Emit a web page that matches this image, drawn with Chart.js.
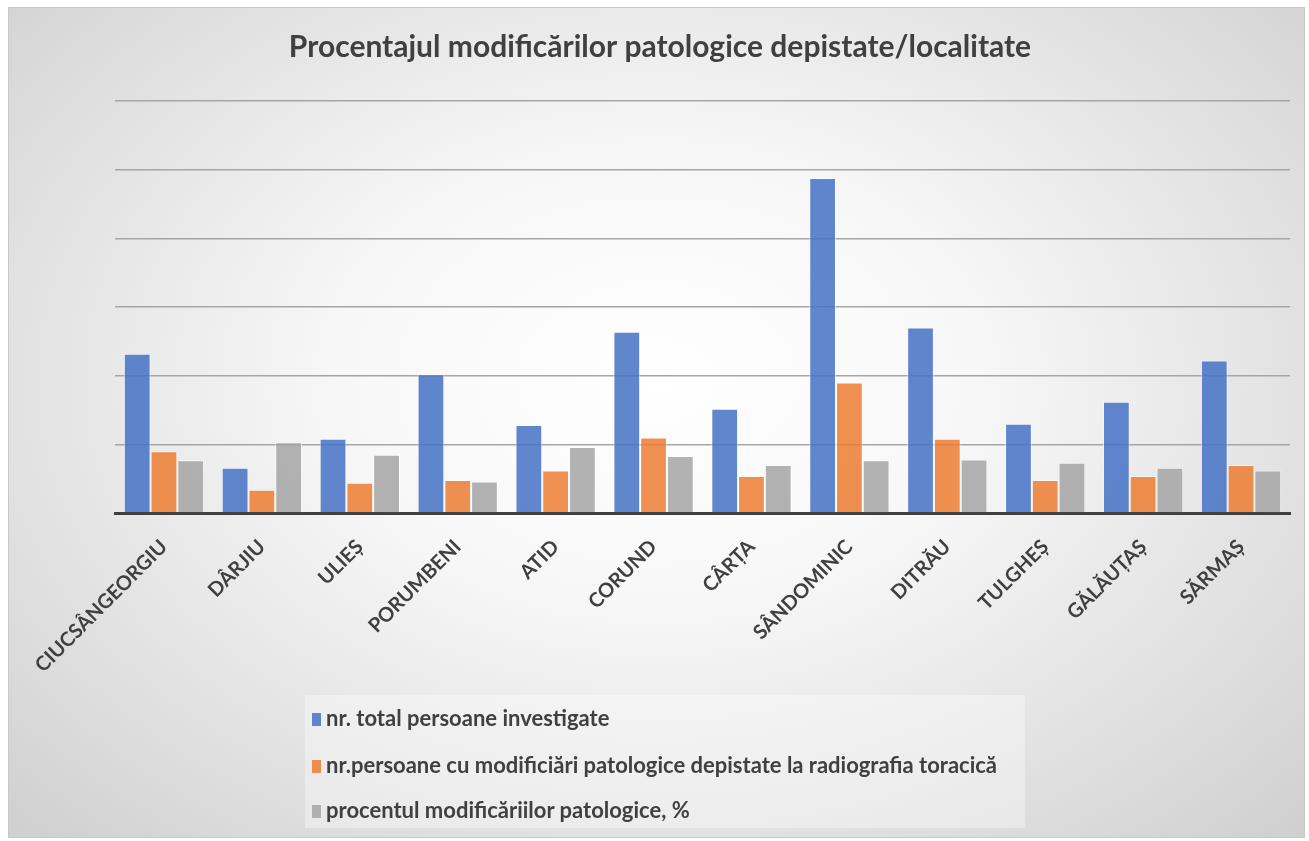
<!DOCTYPE html>
<html>
<head>
<meta charset="utf-8">
<script src="https://cdn.jsdelivr.net/npm/chart.js@4"></script>
<style>
  html, body { margin: 0; padding: 0; background: #fff; }
  #frame {
    position: absolute; left: 8px; top: 7px; width: 1295px; height: 829px;
    border: 1px solid #c8c8c8;
    background: radial-gradient(ellipse at 50% 45%, #ffffff 0%, #f7f7f7 35%, #dcdcdc 80%, #cfcfcf 100%);
  }
  #wrap { position: absolute; left: 0; top: 0; width: 1309px; height: 841px; }
  #legend {
    position: absolute; left: 305px; top: 695px; width: 720px; height: 133px;
    background: rgba(255,255,255,0.35);
    font-family: Lato, "Open Sans", sans-serif; font-weight: bold; font-size: 22px; color: #404040;
  }
  .item { position: absolute; left: 7px; height: 24px; line-height: 24px; white-space: nowrap; }
  .sw { display: inline-block; width: 9px; height: 13px; margin-right: 5px; vertical-align: 0px; }
</style>
</head>
<body>
<div id="frame"></div>
<div id="wrap"><canvas id="chart" width="1309" height="841"></canvas></div>
<div id="legend"></div>
<script>
// categories and series (grid step = 50)
const localitati = ['CIUCSÂNGEORGIU', 'DÂRJIU', 'ULIEȘ', 'PORUMBENI', 'ATID', 'CORUND',
  'CÂRȚA', 'SÂNDOMINIC', 'DITRĂU', 'TULGHEȘ', 'GĂLĂUȚAȘ', 'SĂRMAȘ'];
const totalPersoane = [116, 33, 54, 101, 64, 132, 76, 244, 135, 65, 81, 111];
const persoaneModificari = [45, 17, 22, 24, 31, 55, 27, 95, 54, 24, 27, 35];
const procentModificari = [38.5, 51.5, 42.5, 23, 48, 41.5, 35, 38.5, 39, 36.5, 33, 31];
const seriesNames = ['nr. total persoane investigate',
  'nr.persoane cu modificiări patologice depistate la radiografia toracică',
  'procentul modificăriilor patologice, %'];

const fontFam = 'Lato, "Open Sans", sans-serif';

const ctx = document.getElementById('chart').getContext('2d');
const chart = new Chart(ctx, {
  type: 'bar',
  data: {
    labels: localitati,
    datasets: [{
      label: seriesNames[0],
      data: totalPersoane,
      backgroundColor: 'rgba(68, 114, 196, 0.85)',
      borderColor: 'rgba(255, 255, 255, 0.6)',
      borderWidth: 1
    }, {
      label: seriesNames[1],
      data: persoaneModificari,
      backgroundColor: 'rgba(237, 125, 49, 0.85)',
      borderColor: 'rgba(255, 255, 255, 0.6)',
      borderWidth: 1
    }, {
      label: seriesNames[2],
      data: procentModificari,
      backgroundColor: 'rgba(165, 165, 165, 0.85)',
      borderColor: 'rgba(255, 255, 255, 0.6)',
      borderWidth: 1
    }]
  },
  options: {
    responsive: false,
    animation: false,
    layout: { padding: { top: 17, left: 30, right: 19, bottom: 0 } },
    datasets: { bar: { categoryPercentage: 0.82, barPercentage: 1.0 } },
    plugins: {
      legend: { display: false },
      tooltip: { enabled: false },
      title: {
        display: true,
        text: 'Procentajul modificărilor patologice depistate/localitate',
        color: '#404040',
        font: { family: fontFam, size: 30, weight: 'bold' },
        padding: { top: 12, bottom: 36 }
      }
    },
    scales: {
      x: {
        grid: { display: false },
        border: { display: true, color: '#404040', width: 3 },
        ticks: {
          color: '#404040', minRotation: 45, maxRotation: 45, autoSkip: false,
          font: { family: fontFam, size: 20, weight: 'bold' }, padding: 14
        },
        afterFit: s => { s.height = 328; }
      },
      y: {
        min: 0, max: 300,
        ticks: { display: false, stepSize: 50 },
        grid: { color: '#a6a6a6', lineWidth: 1.5, drawTicks: false },
        border: { display: false },
        afterFit: s => { s.width = 85; }
      }
    }
  }
});

// vertical legend from the chart's datasets
const legendEl = document.getElementById('legend');
const rowsTop = [11, 58, 103];
chart.data.datasets.forEach((ds, i) => {
  const row = document.createElement('div');
  row.className = 'item';
  row.style.top = rowsTop[i] + 'px';
  const sw = document.createElement('span');
  sw.className = 'sw';
  sw.style.background = ds.backgroundColor;
  row.appendChild(sw);
  row.appendChild(document.createTextNode(ds.label));
  legendEl.appendChild(row);
});
</script>
</body>
</html>
